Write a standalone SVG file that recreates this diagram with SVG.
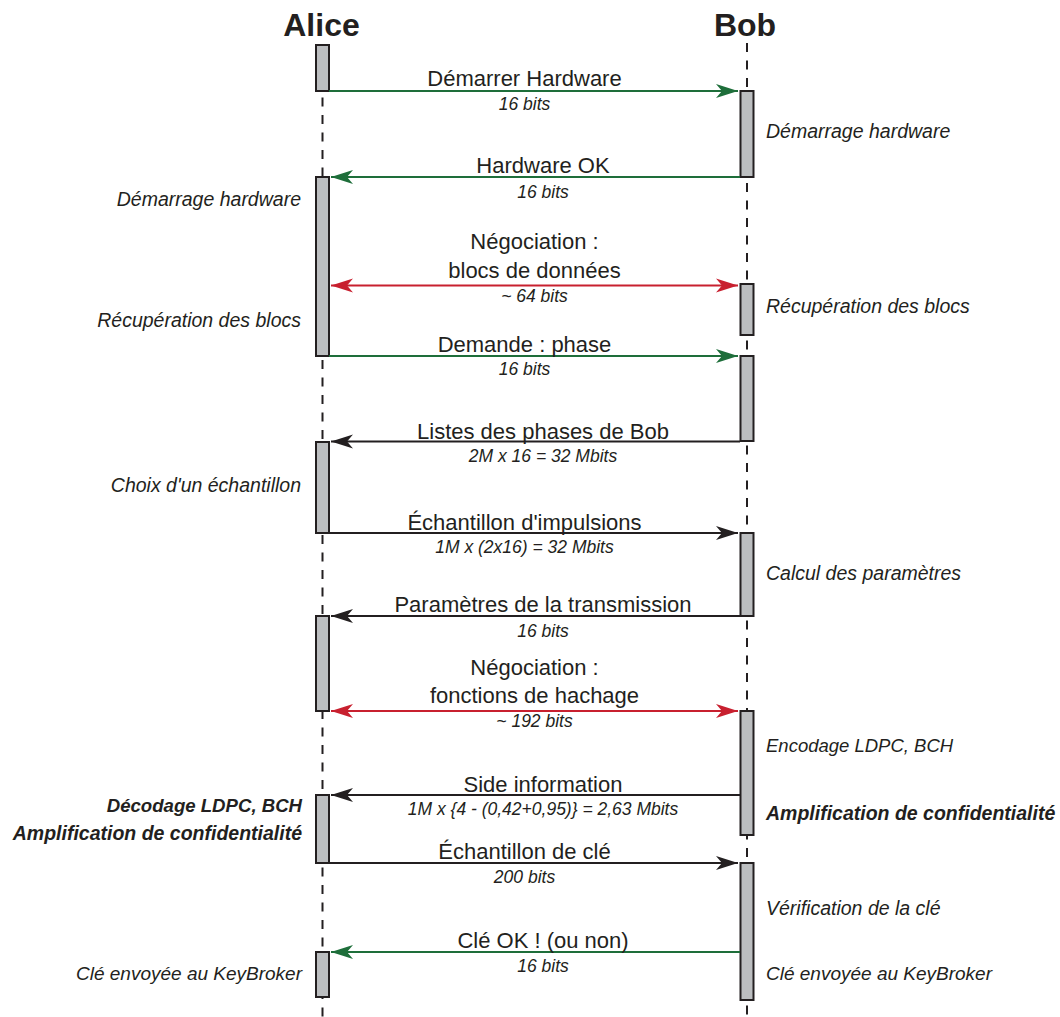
<svg xmlns="http://www.w3.org/2000/svg" width="1060" height="1017" viewBox="0 0 1060 1017">
<style>
text{font-family:"Liberation Sans",Arial,sans-serif;fill:#231f20}
.title{font-size:32px;font-weight:bold;text-anchor:middle}
.msg{font-size:22px;text-anchor:middle}
.sub{font-size:17.5px;font-style:italic;text-anchor:middle}
.note{font-size:19.5px;font-style:italic}
.noteL{font-size:19.5px;font-style:italic;text-anchor:end}
.bold{font-weight:bold}
.life{stroke:#231f20;stroke-width:2;stroke-dasharray:9 8.5;fill:none}
.act{fill:#bcbec0;stroke:#231f20;stroke-width:2}
.g{stroke:#1e6e3a;stroke-width:2;fill:none}
.r{stroke:#c8202f;stroke-width:2;fill:none}
.k{stroke:#231f20;stroke-width:2;fill:none}
</style>
<defs>
<marker id="ag" markerUnits="userSpaceOnUse" markerWidth="24" markerHeight="16" viewBox="-23 -8 24 16" refX="0" refY="0" orient="auto"><path d="M0,0 L-22,-7 L-16,0 L-22,7 Z" fill="#1e6e3a"/></marker>
<marker id="ar" markerUnits="userSpaceOnUse" markerWidth="24" markerHeight="16" viewBox="-23 -8 24 16" refX="0" refY="0" orient="auto-start-reverse"><path d="M0,0 L-22,-7 L-16,0 L-22,7 Z" fill="#c8202f"/></marker>
<marker id="ak" markerUnits="userSpaceOnUse" markerWidth="24" markerHeight="16" viewBox="-23 -8 24 16" refX="0" refY="0" orient="auto"><path d="M0,0 L-22,-7 L-16,0 L-22,7 Z" fill="#231f20"/></marker>
</defs>

<g id="alice">
<text class="title" x="321.5" y="36">Alice</text>
<line class="life" x1="322.5" y1="45" x2="322.5" y2="1017"/>
<rect class="act" x="316" y="45" width="13" height="46"/>
<rect class="act" x="316" y="177" width="13" height="179"/>
<rect class="act" x="316" y="442" width="13" height="91"/>
<rect class="act" x="316" y="616" width="13" height="95"/>
<rect class="act" x="316" y="795" width="13" height="68"/>
<rect class="act" x="316" y="952" width="13" height="45"/>
<text class="noteL" x="301" y="206">Démarrage hardware</text>
<text class="noteL" x="301" y="327">Récupération des blocs</text>
<text class="noteL" x="301" y="492">Choix d'un échantillon</text>
<text class="noteL bold" x="302" y="812" style="font-size:18.6px">Décodage LDPC, BCH</text>
<text class="noteL bold" x="302" y="840">Amplification de confidentialité</text>
<text class="noteL" x="302" y="980" style="font-size:19px">Clé envoyée au KeyBroker</text>
</g>

<g id="bob">
<text class="title" x="745" y="36">Bob</text>
<line class="life" x1="747" y1="43" x2="747" y2="1017"/>
<rect class="act" x="740.5" y="91" width="13" height="86"/>
<rect class="act" x="740.5" y="284" width="13" height="51"/>
<rect class="act" x="740.5" y="356" width="13" height="85"/>
<rect class="act" x="740.5" y="533" width="13" height="83"/>
<rect class="act" x="740.5" y="711" width="13" height="124"/>
<rect class="act" x="740.5" y="863" width="13" height="137"/>
<text class="note" x="766" y="138">Démarrage hardware</text>
<text class="note" x="766" y="313">Récupération des blocs</text>
<text class="note" x="766" y="580">Calcul des paramètres</text>
<text class="note" x="766" y="752" style="font-size:18.5px">Encodage LDPC, BCH</text>
<text class="note bold" x="766" y="820">Amplification de confidentialité</text>
<text class="note" x="766" y="915">Vérification de la clé</text>
<text class="note" x="766" y="980" style="font-size:19px">Clé envoyée au KeyBroker</text>
</g>

<g id="connectors">
<line class="g" x1="329" y1="91" x2="738" y2="91" marker-end="url(#ag)"/>
<line class="g" x1="740" y1="177" x2="331" y2="177" marker-end="url(#ag)"/>
<line class="r" x1="331" y1="285.5" x2="738" y2="285.5" marker-start="url(#ar)" marker-end="url(#ar)"/>
<line class="g" x1="329" y1="356" x2="738" y2="356" marker-end="url(#ag)"/>
<line class="k" x1="740" y1="441.5" x2="331" y2="441.5" marker-end="url(#ak)"/>
<line class="k" x1="329" y1="533" x2="738" y2="533" marker-end="url(#ak)"/>
<line class="k" x1="740" y1="616" x2="331" y2="616" marker-end="url(#ak)"/>
<line class="r" x1="331" y1="711" x2="738" y2="711" marker-start="url(#ar)" marker-end="url(#ar)"/>
<line class="k" x1="740" y1="795" x2="331" y2="795" marker-end="url(#ak)"/>
<line class="k" x1="329" y1="863" x2="738" y2="863" marker-end="url(#ak)"/>
<line class="g" x1="740" y1="952" x2="331" y2="952" marker-end="url(#ag)"/>
</g>

<g id="labels">
<text class="msg" x="524.5" y="86">Démarrer Hardware</text>
<text class="sub" x="524.5" y="110">16 bits</text>
<text class="msg" x="543" y="173">Hardware OK</text>
<text class="sub" x="543" y="198">16 bits</text>
<text class="msg" x="534.5" y="249">Négociation :</text>
<text class="msg" x="534.5" y="278">blocs de données</text>
<text class="sub" x="534.5" y="302">~ 64 bits</text>
<text class="msg" x="524.5" y="351.5">Demande : phase</text>
<text class="sub" x="524.5" y="375">16 bits</text>
<text class="msg" x="543" y="439">Listes des phases de Bob</text>
<text class="sub" x="543" y="462">2M x 16 = 32 Mbits</text>
<text class="msg" x="524.5" y="530">Échantillon d'impulsions</text>
<text class="sub" x="524.5" y="553">1M x (2x16) = 32 Mbits</text>
<text class="msg" x="543" y="612">Paramètres de la transmission</text>
<text class="sub" x="543" y="637">16 bits</text>
<text class="msg" x="534.5" y="675">Négociation :</text>
<text class="msg" x="534.5" y="703">fonctions de hachage</text>
<text class="sub" x="534.5" y="727">~ 192 bits</text>
<text class="msg" x="543" y="792">Side information</text>
<text class="sub" x="543" y="815">1M x {4 - (0,42+0,95)} = 2,63 Mbits</text>
<text class="msg" x="524.5" y="859">Échantillon de clé</text>
<text class="sub" x="524.5" y="883">200 bits</text>
<text class="msg" x="543" y="948">Clé OK ! (ou non)</text>
<text class="sub" x="543" y="972">16 bits</text>
</g>
</svg>
